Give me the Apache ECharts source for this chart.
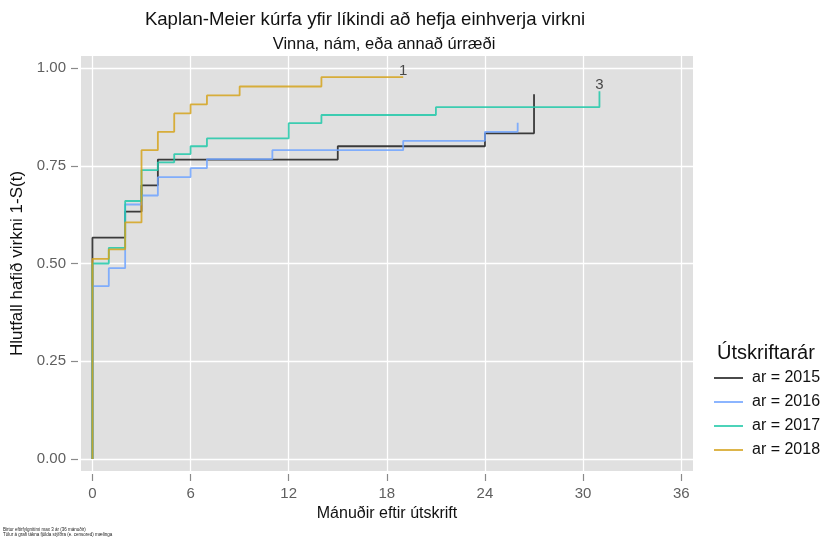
<!DOCTYPE html>
<html>
<head>
<meta charset="utf-8">
<script src="https://cdn.jsdelivr.net/npm/echarts@6/dist/echarts.min.js"></script>
<style>
  html, body { margin: 0; padding: 0; background: #fff; }
  #chart { width: 823px; height: 544px; }
</style>
</head>
<body>
<div id="chart"></div>
<script>
//Kaplan-Meier data (time in months, 1-S(t))
const years = ['ar = 2015', 'ar = 2016', 'ar = 2017', 'ar = 2018'];
const colors = ['#1c1c1c', '#6fa3ff', '#1fc8a8', '#d5a31c'];

const times2015 = [0, 0, 2, 3, 4, 15, 24, 27];
const surv2015 = [0, 0.566, 0.633, 0.700, 0.766, 0.800, 0.833, 0.933];
const times2016 = [0, 0, 1, 2, 3, 4, 6, 7, 11, 19, 24, 26];
const surv2016 = [0, 0.442, 0.488, 0.651, 0.674, 0.721, 0.744, 0.767, 0.790, 0.814, 0.837, 0.860];
const times2017 = [0, 0, 1, 2, 3, 4, 5, 6, 7, 12, 14, 21, 31];
const surv2017 = [0, 0.500, 0.540, 0.660, 0.739, 0.759, 0.780, 0.800, 0.820, 0.859, 0.880, 0.900, 0.941];
const times2018 = [0, 0, 1, 2, 3, 4, 5, 6, 7, 9, 14, 19];
const surv2018 = [0, 0.512, 0.536, 0.605, 0.790, 0.837, 0.884, 0.907, 0.930, 0.953, 0.977, 0.977];

//number of censored observations at the curve ends
const censorTimes = [19, 31];
const censorSurv = [0.977, 0.941];
const censorCounts = ['1', '3'];

const xTicks = [0, 6, 12, 18, 24, 30, 36];
const yTicks = [0, 0.25, 0.5, 0.75, 1];

const allTimes = [times2015, times2016, times2017, times2018];
const allSurv = [surv2015, surv2016, surv2017, surv2018];

const font = 'Liberation Sans, Arial, sans-serif';

function pairs(xs, ys) {
    return xs.map((x, i) => [x, ys[i]]);
}

let chart = echarts.init(document.getElementById('chart'), null, { renderer: 'canvas' });

let series = years.map((name, i) => ({
    name: name,
    type: 'line',
    step: 'end',
    symbol: 'none',
    showSymbol: false,
    color: colors[i],
    lineStyle: { width: 1.8, color: colors[i], opacity: 0.85 },
    data: pairs(allTimes[i], allSurv[i]),
    z: 3 + i,
    animation: false
}));

series.push({
    name: 'censored',
    type: 'scatter',
    symbol: 'circle',
    symbolSize: 1,
    itemStyle: { color: 'rgba(0,0,0,0)' },
    data: censorTimes.map((t, i) => [t, censorSurv[i], censorCounts[i]]),
    label: {
        show: true,
        position: 'top',
        distance: -2,
        formatter: p => p.value[2],
        color: '#222',
        fontFamily: font,
        fontSize: 15
    },
    z: 10,
    animation: false
});

let option = {
    backgroundColor: '#fff',
    animation: false,
    grid: { left: 81, right: 130, top: 56, bottom: 73, show: true, backgroundColor: '#e0e0e0', borderWidth: 0 },
    xAxis: {
        type: 'value',
        min: -0.7,
        max: 36.72,
        offset: 3,
        axisLine: { show: false, onZero: false },
        axisTick: { show: true, length: 7, lineStyle: { color: '#8a8a8a', width: 1.2 }, customValues: xTicks },
        axisLabel: { color: '#5f5f5f', fontFamily: font, fontSize: 15, margin: 12, customValues: xTicks },
        splitLine: { show: true, lineStyle: { color: '#ffffff', width: 1.3 } },
        name: 'Mánuðir eftir útskrift',
        nameLocation: 'middle',
        nameGap: 27,
        nameTextStyle: { color: '#111', fontFamily: font, fontSize: 16 }
    },
    yAxis: {
        type: 'value',
        min: -0.031,
        max: 1.031,
        offset: 3,
        axisLine: { show: false, onZero: false },
        axisTick: { show: true, length: 7, lineStyle: { color: '#8a8a8a', width: 1.2 }, customValues: yTicks },
        axisLabel: {
            color: '#5f5f5f', fontFamily: font, fontSize: 15, margin: 12, customValues: yTicks,
            formatter: v => v.toFixed(2)
        },
        splitLine: { show: true, lineStyle: { color: '#ffffff', width: 1.3 } },
        name: 'Hlutfall hafið virkni 1-S(t)',
        nameLocation: 'middle',
        nameGap: 52,
        nameTextStyle: { color: '#111', fontFamily: font, fontSize: 17 }
    },
    legend: {
        data: years,
        orient: 'vertical',
        left: 709,
        top: 365,
        itemWidth: 29,
        itemHeight: 14,
        itemGap: 8,
        icon: 'path://M0,0 L29,0 L29,1.6 L0,1.6 Z',
        textStyle: { color: '#111', fontFamily: font, fontSize: 16, padding: [0, 0, 0, 4] },
        selectedMode: false
    },
    graphic: [
        { type: 'text', x: 365, y: 20, style: { text: 'Kaplan-Meier kúrfa yfir líkindi að hefja einhverja virkni', font: '18.6px ' + font, fill: '#111', align: 'center', verticalAlign: 'middle' } },
        { type: 'text', x: 384, y: 44, style: { text: 'Vinna, nám, eða annað úrræði', font: '16.5px ' + font, fill: '#111', align: 'center', verticalAlign: 'middle' } },
        { type: 'text', x: 766, y: 353, style: { text: 'Útskriftarár', font: '20px ' + font, fill: '#111', align: 'center', verticalAlign: 'middle' } },
        { type: 'text', x: 3, y: 527, style: { text: 'Birtur eftirfylgnitími max 3 ár (36 mánuðir)\nTölur á grafi tákna fjölda stýfðra (e. censored) mælinga', font: '4.5px ' + font, lineHeight: 5.5, fill: '#222', align: 'left', verticalAlign: 'top' } }
    ],
    series: series
};

chart.setOption(option);
</script>
</body>
</html>
